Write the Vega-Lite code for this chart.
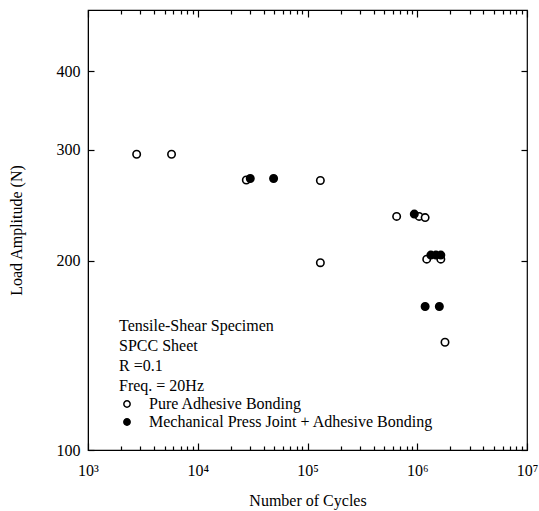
{
  "$schema": "https://vega.github.io/schema/vega-lite/v6.json",
  "width": 439,
  "height": 440,
  "autosize": "none",
  "padding": {"left": 88, "top": 10, "right": 12, "bottom": 61},
  "background": "white",
  "config": {
    "view": {"stroke": "black", "strokeWidth": 1.2},
    "font": "Liberation Serif",
    "axis": {
      "labelFont": "Liberation Serif",
      "titleFont": "Liberation Serif",
      "labelFontSize": 16,
      "titleFontSize": 16,
      "titleFontWeight": "normal",
      "labelColor": "black",
      "titleColor": "black",
      "domainColor": "black",
      "tickColor": "black",
      "tickWidth": 1.2,
      "grid": false
    }
  },
  "data": {
    "values": [
      {"cycles": 2775, "load": 295, "series": "Pure Adhesive Bonding"},
      {"cycles": 5770, "load": 295, "series": "Pure Adhesive Bonding"},
      {"cycles": 27700, "load": 268.5, "series": "Pure Adhesive Bonding"},
      {"cycles": 131000, "load": 268, "series": "Pure Adhesive Bonding"},
      {"cycles": 131000, "load": 198.4, "series": "Pure Adhesive Bonding"},
      {"cycles": 649000, "load": 235, "series": "Pure Adhesive Bonding"},
      {"cycles": 1040000, "load": 235, "series": "Pure Adhesive Bonding"},
      {"cycles": 1180000, "load": 234, "series": "Pure Adhesive Bonding"},
      {"cycles": 1220000, "load": 201, "series": "Pure Adhesive Bonding"},
      {"cycles": 1640000, "load": 201, "series": "Pure Adhesive Bonding"},
      {"cycles": 1790000, "load": 148.3, "series": "Pure Adhesive Bonding"},
      {"cycles": 30100, "load": 270, "series": "Mechanical Press Joint + Adhesive Bonding"},
      {"cycles": 49100, "load": 270, "series": "Mechanical Press Joint + Adhesive Bonding"},
      {"cycles": 940000, "load": 237, "series": "Mechanical Press Joint + Adhesive Bonding"},
      {"cycles": 1330000, "load": 204, "series": "Mechanical Press Joint + Adhesive Bonding"},
      {"cycles": 1480000, "load": 204, "series": "Mechanical Press Joint + Adhesive Bonding"},
      {"cycles": 1640000, "load": 204, "series": "Mechanical Press Joint + Adhesive Bonding"},
      {"cycles": 1180000, "load": 169, "series": "Mechanical Press Joint + Adhesive Bonding"},
      {"cycles": 1590000, "load": 169, "series": "Mechanical Press Joint + Adhesive Bonding"}
    ]
  },
  "layer": [
    {
      "mark": {"type": "point", "shape": "circle", "filled": true, "stroke": "black", "strokeWidth": 1.6, "size": 55, "opacity": 1},
      "encoding": {
        "x": {
          "field": "cycles", "type": "quantitative",
          "scale": {"type": "log", "domain": [1000, 10000000], "nice": false},
          "axis": {
            "orient": "bottom",
            "title": "Number of Cycles",
            "titlePadding": 14,
            "values": [1000, 10000, 100000, 1000000, 10000000],
            "labelExpr": "datum.value == 1000 ? '10³' : datum.value == 10000 ? '10⁴' : datum.value == 100000 ? '10⁵' : datum.value == 1000000 ? '10⁶' : '10⁷'",
            "ticks": false,
            "labelPadding": 12,
            "labelOverlap": false,
            "labelFlush": false
          }
        },
        "y": {
          "field": "load", "type": "quantitative",
          "scale": {"type": "log", "domain": [100, 500], "nice": false},
          "axis": {
            "orient": "left",
            "title": "Load Amplitude (N)",
            "titlePadding": 32,
            "values": [100, 200, 300, 400],
            "ticks": false,
            "labelPadding": 8,
            "labelOverlap": false
          }
        },
        "fill": {
          "field": "series", "type": "nominal",
          "scale": {"domain": ["Pure Adhesive Bonding", "Mechanical Press Joint + Adhesive Bonding"], "range": ["white", "black"]},
          "legend": {
            "title": ["Tensile-Shear Specimen", "SPCC Sheet", "R =0.1", "Freq. = 20Hz"],
            "orient": "none",
            "legendX": 31,
            "legendY": 308,
            "titleFont": "Liberation Serif",
            "titleFontSize": 16,
            "titleFontWeight": "normal",
            "titleLineHeight": 20,
            "titlePadding": 2,
            "titleColor": "black",
            "titleLimit": 400,
            "labelFont": "Liberation Serif",
            "labelFontSize": 16,
            "labelColor": "black",
            "labelLimit": 400,
            "labelOffset": 14,
            "symbolType": "circle",
            "symbolSize": 40,
            "symbolStrokeColor": "black",
            "symbolStrokeWidth": 1.5,
            "rowPadding": 2,
            "padding": 0
          }
        }
      }
    },
    {
      "mark": {"type": "point", "opacity": 0},
      "encoding": {
        "x": {
          "field": "cycles", "type": "quantitative",
          "axis": {
            "orient": "top",
            "offset": -440,
            "title": null,
            "labels": false,
            "domain": false,
            "values": [1000, 2000, 3000, 4000, 5000, 6000, 7000, 8000, 9000, 10000, 20000, 30000, 40000, 50000, 60000, 70000, 80000, 90000, 100000, 200000, 300000, 400000, 500000, 600000, 700000, 800000, 900000, 1000000, 2000000, 3000000, 4000000, 5000000, 6000000, 7000000, 8000000, 9000000, 10000000],
            "tickSize": {"condition": {"test": "abs(log(datum.value)/LN10 - round(log(datum.value)/LN10)) < 0.001", "value": 7}, "value": 4}
          }
        },
        "y": {
          "field": "load", "type": "quantitative",
          "axis": {
            "orient": "right",
            "offset": -439,
            "title": null,
            "labels": false,
            "domain": false,
            "values": [100, 200, 300, 400],
            "tickSize": 6
          }
        }
      }
    },
    {
      "mark": {"type": "point", "opacity": 0},
      "encoding": {
        "x": {
          "field": "cycles", "type": "quantitative",
          "axis": {
            "orient": "bottom",
            "offset": -440,
            "title": null,
            "labels": false,
            "domain": false,
            "values": [1000, 2000, 3000, 4000, 5000, 6000, 7000, 8000, 9000, 10000, 20000, 30000, 40000, 50000, 60000, 70000, 80000, 90000, 100000, 200000, 300000, 400000, 500000, 600000, 700000, 800000, 900000, 1000000, 2000000, 3000000, 4000000, 5000000, 6000000, 7000000, 8000000, 9000000, 10000000],
            "tickSize": {"condition": {"test": "abs(log(datum.value)/LN10 - round(log(datum.value)/LN10)) < 0.001", "value": 7}, "value": 4}
          }
        },
        "y": {
          "field": "load", "type": "quantitative",
          "axis": {
            "orient": "left",
            "offset": -439,
            "title": null,
            "labels": false,
            "domain": false,
            "values": [100, 200, 300, 400],
            "tickSize": 6
          }
        }
      }
    }
  ],
  "resolve": {"axis": {"x": "independent", "y": "independent"}}
}
